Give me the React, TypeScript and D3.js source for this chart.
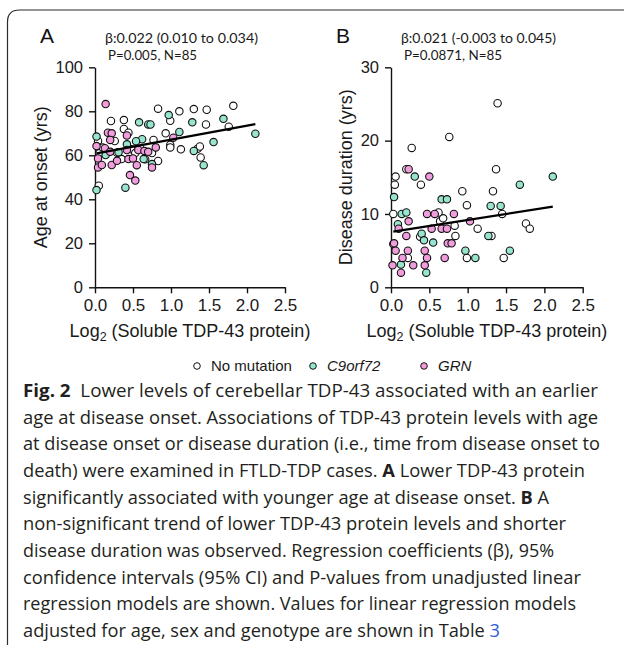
import { useRef, useEffect } from 'react';
import * as d3 from 'd3';

// genotype fills
const COLORS = {
  none: '#ffffff',
  c9: '#97e4cf',
  grn: '#f19cdc',
};

const xTicks = [0, 0.5, 1, 1.5, 2, 2.5];
const onsetTicks = [0, 20, 40, 60, 80, 100];
const durationTicks = [0, 10, 20, 30];

// panel A: [log2 soluble TDP-43, age at onset]
const onsetNoMut = [
  [0.21, 75.6], [0.38, 76], [0.38, 72], [0.83, 81.2], [0.99, 75.7], [1.11, 80], [1.3, 81],
  [1.47, 80.7], [1.46, 74], [1.82, 82.5], [1.76, 73], [0.93, 70], [0.99, 64.7], [0.99, 63.6],
  [1.13, 62.7], [1.35, 63], [1.38, 64], [1.39, 59], [0.77, 67], [0.44, 70.3], [0.26, 66.5],
  [0.04, 66.5], [0.29, 61.2], [0.06, 61], [0.48, 62.7], [0.53, 61], [0.75, 61], [0.66, 58.2],
  [0.83, 57.4], [0.05, 46.2], [0.35, 58.3], [0.1, 63.5], [0.6, 63],
];
const onsetC9 = [
  [0.58, 75], [0.7, 74], [0.73, 74], [0.97, 78.3], [1.28, 75], [1.69, 76.6], [2.11, 69.8],
  [1.11, 70.6], [1.3, 62], [1.43, 55.5], [1.56, 66], [0.62, 67.3], [0.54, 66.4], [0.42, 65],
  [0.02, 68.5], [0.14, 60.1], [0.64, 58.3], [0.75, 56], [0.4, 45.3], [0.02, 44.2], [0.31, 61.4],
];
const onsetGrn = [
  [0.14, 83.3], [1.03, 68], [0.42, 69], [0.17, 70.3], [0.22, 70], [0.2, 67], [0.02, 64.2],
  [0.13, 63.2], [0.2, 61.6], [0.04, 58.6], [0.04, 54.5], [0.22, 55.6], [0.29, 57.5], [0.42, 62.4],
  [0.44, 58.3], [0.5, 58.6], [0.55, 55.5], [0.57, 62.4], [0.65, 62], [0.7, 61.6], [0.8, 63.6],
  [0.75, 54.5], [0.46, 51], [0.53, 48.5], [0.09, 55.6],
];
const onsetFit = [[0.02, 60.9], [2.11, 74.2]];

// panel B: [log2 soluble TDP-43, disease duration]
const durationNoMut = [
  [1.39, 25.1], [0.76, 20.5], [0.27, 19], [0.2, 16.1], [1.37, 16.1], [0.06, 15.1], [0.05, 14],
  [0.39, 14], [0.93, 13.1], [1.33, 13.1], [0.99, 11.2], [0.03, 10], [0.38, 6.9], [0.64, 9],
  [0.68, 9.4], [0.83, 8.4], [0.84, 7], [1.13, 8], [1.45, 10], [0.99, 4], [1.47, 4], [1.76, 8.7],
  [1.81, 8], [0.22, 4], [0.03, 5.9], [0.62, 10.2], [1.31, 7],
];
const durationC9 = [
  [0.31, 15.1], [1.68, 14], [0.04, 12.3], [0.66, 12], [0.73, 12], [1.3, 11.1], [1.43, 11.1],
  [0.14, 10], [0.2, 10.2], [0.09, 8.6], [0.4, 7.3], [0.43, 6.4], [0.55, 6.1], [0.13, 3.1],
  [0.46, 2], [1.27, 7], [0.97, 5], [1.1, 4], [1.55, 5], [2.11, 15.1],
];
const durationGrn = [
  [0.23, 16.1], [0.5, 15.1], [0.23, 9], [0.1, 8], [0.2, 7], [0.04, 6], [0.06, 5], [0.22, 5],
  [0.44, 5], [0.15, 4], [0.47, 4], [0.7, 4], [0.02, 3], [0.29, 3], [0.44, 3], [0.13, 2],
  [0.47, 10], [0.57, 10], [0.82, 10], [0.53, 8], [0.66, 8], [0.73, 8], [0.74, 6], [0.79, 6],
  [1.03, 9],
];
const durationFit = [[0.03, 7.6], [2.11, 11.0]];

const legendItems = [
  { label: 'No mutation', color: COLORS.none, italic: false },
  { label: 'C9orf72', color: COLORS.c9, italic: true },
  { label: 'GRN', color: COLORS.grn, italic: true },
];

const SANS = '"Liberation Sans", Arial, sans-serif';
const CAPTION_FONT = '"Open Sans", "Noto Sans", sans-serif';

const panels = [
  {
    letter: 'A', left: 95, right: 285, yMax: 100, yTicks: onsetTicks, yTitle: 'Age at onset (yrs)',
    stats: ['β:0.022 (0.010 to 0.034)', 'P=0.005, N=85'], statsWidth: [153, 89],
    groups: [[onsetNoMut, COLORS.none], [onsetC9, COLORS.c9], [onsetGrn, COLORS.grn]],
    fit: onsetFit, titleX: 47,
  },
  {
    letter: 'B', left: 391, right: 582.7, yMax: 30, yTicks: durationTicks, yTitle: 'Disease duration (yrs)',
    stats: ['β:0.021 (-0.003 to 0.045)', 'P=0.0871, N=85'], statsWidth: [155, 98],
    groups: [[durationNoMut, COLORS.none], [durationC9, COLORS.c9], [durationGrn, COLORS.grn]],
    fit: durationFit, titleX: 352,
  },
];

// caption lines, each a list of [text, style]
const captionLines = [
  { end: 598, parts: [['Fig. 2', 'b'], ['  Lower levels of cerebellar TDP-43 associated with an earlier', '']] },
  { end: 598, parts: [['age at disease onset. Associations of TDP-43 protein levels with age', '']] },
  { end: 600, parts: [['at disease onset or disease duration (i.e., time from disease onset to', '']] },
  { end: 585, parts: [['death) were examined in FTLD-TDP cases. ', ''], ['A', 'b'], [' Lower TDP-43 protein', '']] },
  { end: 549, parts: [['significantly associated with younger age at disease onset. ', ''], ['B', 'b'], [' A', '']] },
  { end: 566, parts: [['non-significant trend of lower TDP-43 protein levels and shorter', '']] },
  { end: 554, parts: [['disease duration was observed. Regression coefficients (β), 95%', '']] },
  { end: 581, parts: [['confidence intervals (95% CI) and P-values from unadjusted linear', '']] },
  { end: 576, parts: [['regression models are shown. Values for linear regression models', '']] },
  { end: 500, parts: [['adjusted for age, sex and genotype are shown in Table ', ''], ['3', 'link']] },
];

export default function App() {
  const svgRef = useRef<SVGSVGElement>(null);

  useEffect(() => {
    if (!svgRef.current) return;
    const svg = d3.select(svgRef.current);
    svg.selectAll('*').remove();

    // frame: top and left rule with rounded corner
    svg.append('path')
      .attr('d', 'M7.5,645 L7.5,22 Q7.5,10 19.5,10 L624,10')
      .attr('fill', 'none').attr('stroke', '#2b2b2b').attr('stroke-width', 1.2);

    const top = 67.3, bottom = 287.3;

    panels.forEach(p => {
      const x = d3.scaleLinear().domain([0, 2.5]).range([p.left, p.right]);
      const y = d3.scaleLinear().domain([0, p.yMax]).range([bottom, top]);
      const g = svg.append('g');

      const yAxis = g.append('g')
        .attr('transform', `translate(${p.left},0)`)
        .call(d3.axisLeft(y).tickValues(p.yTicks).tickSize(6).tickSizeOuter(0).tickPadding(6));
      const xAxis = g.append('g')
        .attr('transform', `translate(0,${bottom})`)
        .call(d3.axisBottom(x).tickValues(xTicks).tickFormat(d3.format('.1f')).tickSize(6).tickSizeOuter(0).tickPadding(6));
      [yAxis, xAxis].forEach(a => {
        a.attr('font-family', SANS).attr('font-size', 16.5);
        a.selectAll('path, line').attr('stroke', '#111').attr('stroke-width', 1.4);
        a.selectAll('text').attr('fill', '#1a1a1a');
      });
      xAxis.selectAll('text').attr('font-size', 17);

      // points
      p.groups.forEach(([pts, color]) => {
        g.append('g').selectAll('circle')
          .data(pts as number[][])
          .enter().append('circle')
          .attr('cx', d => x(d[0]))
          .attr('cy', d => y(d[1]))
          .attr('r', 3.7)
          .attr('fill', color as string)
          .attr('stroke', '#111')
          .attr('stroke-width', 1.1);
      });

      // regression line
      g.append('path')
        .datum(p.fit)
        .attr('d', d3.line<number[]>().x(d => x(d[0])).y(d => y(d[1])))
        .attr('stroke', '#000').attr('stroke-width', 2.2).attr('fill', 'none');

      // panel letter and stats
      g.append('text')
        .attr('x', p.left - 55).attr('y', 43)
        .attr('font-family', SANS).attr('font-size', 21).attr('fill', '#111')
        .text(p.letter);
      p.stats.forEach((s, i) => {
        g.append('text')
          .attr('x', p.left + 10 + i * 3).attr('y', 43 + i * 17)
          .attr('font-family', 'Lato, sans-serif').attr('font-size', 13.5).attr('fill', '#1a1a1a')
          .attr('textLength', p.statsWidth[i]).attr('lengthAdjust', 'spacingAndGlyphs')
          .text(s);
      });

      // axis titles
      g.append('text')
        .attr('transform', `translate(${p.titleX},${(top + bottom) / 2}) rotate(-90)`)
        .attr('text-anchor', 'middle')
        .attr('font-family', SANS).attr('font-size', 18).attr('fill', '#1a1a1a')
        .text(p.yTitle);
      const xt = g.append('text')
        .attr('x', (p.left + p.right) / 2).attr('y', 337)
        .attr('text-anchor', 'middle')
        .attr('font-family', SANS).attr('font-size', 18).attr('fill', '#1a1a1a');
      xt.append('tspan').text('Log');
      xt.append('tspan').attr('dy', 4).attr('font-size', 12.5).text('2');
      xt.append('tspan').attr('dy', -4).text(' (Soluble TDP-43 protein)');
    });

    // legend
    const legendX = [197, 313, 424];
    const lg = svg.append('g');
    legendItems.forEach((item, i) => {
      lg.append('circle')
        .attr('cx', legendX[i]).attr('cy', 366).attr('r', 3.3)
        .attr('fill', item.color).attr('stroke', '#111').attr('stroke-width', 1);
      lg.append('text')
        .attr('x', legendX[i] + 14).attr('y', 371)
        .attr('font-family', SANS).attr('font-size', 15)
        .attr('font-style', item.italic ? 'italic' : 'normal')
        .attr('fill', '#1a1a1a')
        .text(item.label);
    });

    // caption
    const cap = svg.append('g').attr('font-family', CAPTION_FONT).attr('font-size', 17.5).attr('fill', '#231f20');
    captionLines.forEach((line, i) => {
      const t = cap.append('text')
        .attr('x', 23).attr('y', 397 + i * 26.67)
        .attr('textLength', line.end - 23).attr('lengthAdjust', 'spacingAndGlyphs')
        .attr('xml:space', 'preserve');
      line.parts.forEach(([txt, style]) => {
        const ts = t.append('tspan').text(txt);
        if (style === 'b') ts.attr('font-weight', 'bold');
        if (style === 'link') ts.attr('fill', '#2f5fd0');
      });
    });
  }, []);

  return (
    <div style={{ position: 'absolute', left: 0, top: 0 }}>
      <svg ref={svgRef} width={624} height={647} style={{ display: 'block', background: '#fff' }} />
    </div>
  );
}
